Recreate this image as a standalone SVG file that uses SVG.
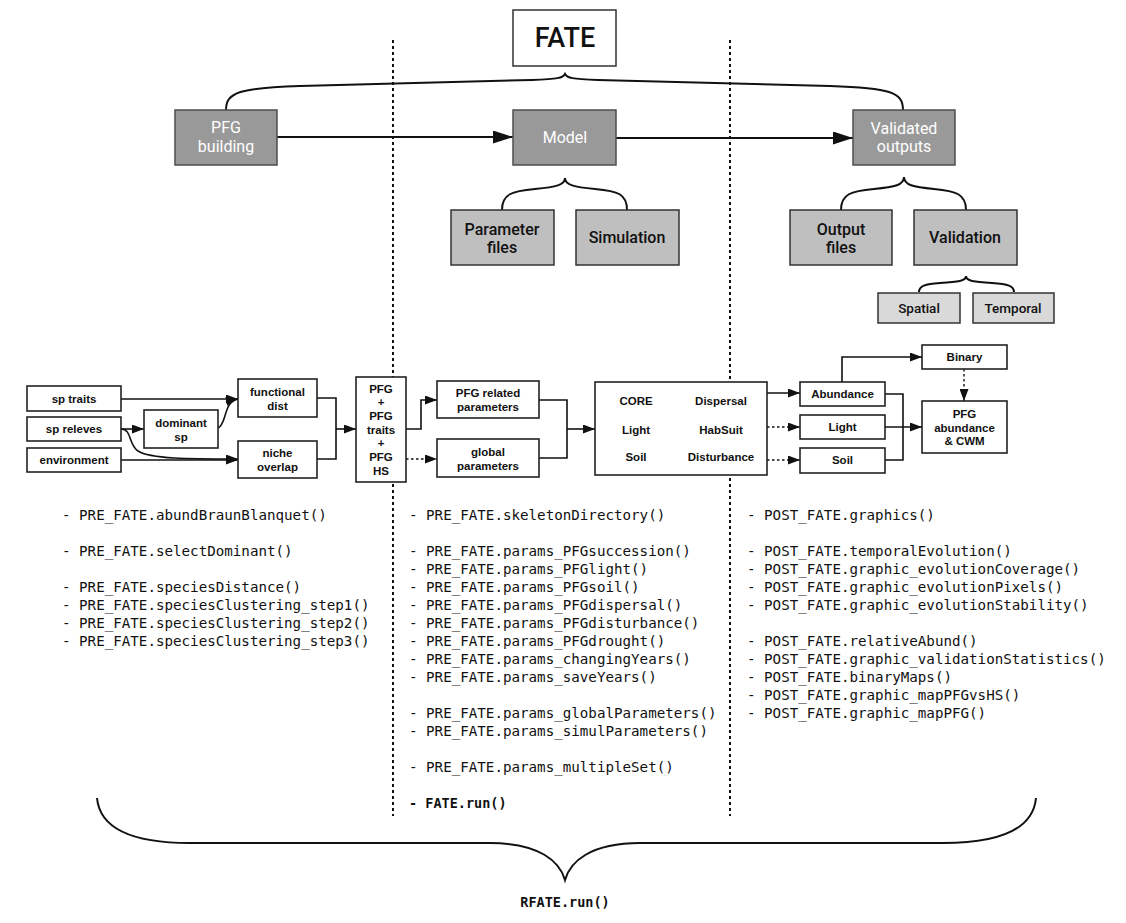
<svg xmlns="http://www.w3.org/2000/svg" width="1126" height="923" viewBox="0 0 1126 923">
<style>
.bg{fill:#ffffff}
.dark rect{fill:#999999;stroke:#4d4d4d;stroke-width:1.5}
.dark text{fill:#ffffff;font-family:Roboto,"Noto Sans",sans-serif;font-size:16px;font-weight:normal;text-anchor:middle}
.mid rect{fill:#bfbfbf;stroke:#333333;stroke-width:1.5}
.mid text{fill:#111111;font-family:Roboto,"Noto Sans",sans-serif;font-size:16px;font-weight:500;text-anchor:middle}
.light rect{fill:#d9d9d9;stroke:#333333;stroke-width:1.5}
.light text{fill:#111111;font-family:Roboto,"Noto Sans",sans-serif;font-size:13.5px;font-weight:500;text-anchor:middle}
.fate rect{fill:#ffffff;stroke:#333333;stroke-width:1.5}
.fate text{fill:#111111;font-family:Roboto,"Noto Sans",sans-serif;font-size:27px;font-weight:500;text-anchor:middle}
.box rect{fill:#ffffff;stroke:#222222;stroke-width:1.6}
.box text{fill:#111111;font-family:"Liberation Sans",Arial,sans-serif;font-size:11.5px;font-weight:bold;text-anchor:middle}
.ln{fill:none;stroke:#111111;stroke-width:1.6}
.dot{fill:none;stroke:#111111;stroke-width:1.4;stroke-dasharray:2.5 2.5}
.big{fill:none;stroke:#111111;stroke-width:2}
.brace{fill:none;stroke:#111111;stroke-width:2}
.sep{fill:none;stroke:#111111;stroke-width:2;stroke-dasharray:3 3}
.code{fill:#111111;font-family:"DejaVu Sans Mono","Liberation Mono",monospace;font-size:14.2px}
.codeb{fill:#111111;font-family:"DejaVu Sans Mono","Liberation Mono",monospace;font-size:13.5px;font-weight:bold}
</style>
<defs>
<marker id="a" markerUnits="userSpaceOnUse" markerWidth="12" markerHeight="9" refX="12" refY="4.5" orient="auto"><path d="M0,0 L12,4.5 L0,9 z" fill="#111111"/></marker>
<marker id="A" markerUnits="userSpaceOnUse" markerWidth="20" markerHeight="13" refX="20" refY="6.5" orient="auto"><path d="M0,0 L20,6.5 L0,13 z" fill="#111111"/></marker>
</defs>
<rect class="bg" x="0" y="0" width="1126" height="923"/>

<g id="separators">
<line class="sep" x1="393" y1="40" x2="393" y2="816"/>
<line class="sep" x1="730" y1="40" x2="730" y2="816"/>
</g>

<g id="connectors">
<path class="brace" d="M226,110 C226,92 240,88 300,86 L532,80 C558,79 563,78 565,74 C567,78 572,79 598,80 L830,86 C890,88 903,92 903,110"/>
<path class="brace" d="M502,210 C502,194 512,191 535,189 C556,187 565,185 565,178 C565,185 574,187 595,189 C618,191 627,194 627,210"/>
<path class="brace" d="M841,210 C841,194 851,191 874,189 C895,187 904,185 904,177 C904,185 913,187 934,189 C956,191 966,194 966,210"/>
<path class="brace" d="M919,292 C919,286 925,284 940,283 C958,282 966,281 966,276 C966,281 974,282 992,283 C1008,284 1014,286 1014,292"/>
<path class="brace" d="M97,798 C100,830 135,843 190,843 L490,843 C540,843 560,862 565,880 C570,862 590,843 640,843 L943,843 C998,843 1033,830 1036,798"/>
<line class="big" x1="277" y1="137" x2="513" y2="137" marker-end="url(#A)"/>
<line class="big" x1="616" y1="138" x2="853" y2="138" marker-end="url(#A)"/>

<path class="ln" d="M121,399 L238,399" marker-end="url(#a)"/>
<path class="ln" d="M121,429 L144,429" marker-end="url(#a)"/>
<path class="ln" d="M121,429 C132,429 128,444 138,451 C150,459 190,459 238,459" marker-end="url(#a)"/>
<path class="ln" d="M121,460 L238,460" marker-end="url(#a)"/>
<path class="ln" d="M218,428 C227,424 223,402 238,399" marker-end="url(#a)"/>
<path class="ln" d="M317,398 L336,398 L336,459 L317,459"/>
<path class="ln" d="M336,429 L356,429" marker-end="url(#a)"/>
<path class="ln" d="M406,429 L421,429 L421,400 L437,400" marker-end="url(#a)"/>
<path class="dot" d="M406,459 L437,459" marker-end="url(#a)"/>
<path class="ln" d="M539,400 L567,400 L567,458 L539,458"/>
<path class="ln" d="M567,429 L595,429" marker-end="url(#a)"/>
<path class="ln" d="M767,393 L800,393" marker-end="url(#a)"/>
<path class="dot" d="M767,427 L800,427" marker-end="url(#a)"/>
<path class="dot" d="M767,460 L800,460" marker-end="url(#a)"/>
<path class="ln" d="M842,382 L842,357 L922,357" marker-end="url(#a)"/>
<path class="dot" d="M964,369 L964,401" marker-end="url(#a)"/>
<path class="ln" d="M885,394 L903,394 L903,460 L885,460"/>
<path class="ln" d="M885,427 L922,427" marker-end="url(#a)"/>
</g>

<g id="fate" class="fate"><rect x="513" y="10" width="103" height="56"/><text x="565" y="47">FATE</text></g>
<g id="pfg-building" class="dark"><rect x="175" y="110" width="102" height="55"/><text x="226" y="133">PFG</text><text x="226" y="152">building</text></g>
<g id="model" class="dark"><rect x="513" y="110" width="103" height="55"/><text x="565" y="143">Model</text></g>
<g id="validated-outputs" class="dark"><rect x="853" y="110" width="102" height="55"/><text x="904" y="134">Validated</text><text x="904" y="152">outputs</text></g>
<g id="parameter-files" class="mid"><rect x="451" y="210" width="103" height="55"/><text x="502" y="235">Parameter</text><text x="502" y="253">files</text></g>
<g id="simulation" class="mid"><rect x="576" y="210" width="103" height="55"/><text x="627" y="243">Simulation</text></g>
<g id="output-files" class="mid"><rect x="790" y="210" width="102" height="55"/><text x="841" y="235">Output</text><text x="841" y="253">files</text></g>
<g id="validation" class="mid"><rect x="914" y="210" width="103" height="55"/><text x="965" y="243">Validation</text></g>
<g id="spatial" class="light"><rect x="878" y="293" width="82" height="30"/><text x="919" y="313">Spatial</text></g>
<g id="temporal" class="light"><rect x="973" y="293" width="81" height="30"/><text x="1013" y="313">Temporal</text></g>

<g id="sp-traits" class="box"><rect x="27" y="386" width="94" height="25"/><text x="74" y="403">sp traits</text></g>
<g id="sp-releves" class="box"><rect x="27" y="417" width="94" height="24"/><text x="74" y="433">sp releves</text></g>
<g id="environment" class="box"><rect x="27" y="448" width="94" height="24"/><text x="74" y="464">environment</text></g>
<g id="dominant-sp" class="box"><rect x="144" y="410" width="74" height="38"/><text x="181" y="427">dominant</text><text x="181" y="441">sp</text></g>
<g id="functional-dist" class="box"><rect x="238" y="379" width="79" height="38"/><text x="277.5" y="396">functional</text><text x="277.5" y="410">dist</text></g>
<g id="niche-overlap" class="box"><rect x="238" y="441" width="79" height="37"/><text x="277.5" y="457">niche</text><text x="277.5" y="471">overlap</text></g>
<g id="pfg" class="box"><rect x="356" y="377" width="50" height="105"/>
<text x="381" y="393">PFG</text><text x="381" y="406">+</text><text x="381" y="420">PFG</text><text x="381" y="434">traits</text><text x="381" y="447">+</text><text x="381" y="461">PFG</text><text x="381" y="475">HS</text></g>
<g id="pfg-related-parameters" class="box"><rect x="437" y="381" width="102" height="37"/><text x="488" y="397">PFG related</text><text x="488" y="411">parameters</text></g>
<g id="global-parameters" class="box"><rect x="437" y="439" width="102" height="38"/><text x="488" y="456">global</text><text x="488" y="470">parameters</text></g>
<g id="core" class="box"><rect x="595" y="382" width="172" height="93"/>
<text x="636" y="405">CORE</text><text x="721" y="405">Dispersal</text>
<text x="636" y="434">Light</text><text x="721" y="434">HabSuit</text>
<text x="636" y="461">Soil</text><text x="721" y="461">Disturbance</text></g>
<g id="abundance" class="box"><rect x="800" y="382" width="85" height="24"/><text x="842.5" y="398">Abundance</text></g>
<g id="light" class="box"><rect x="800" y="415" width="85" height="24"/><text x="842.5" y="431">Light</text></g>
<g id="soil" class="box"><rect x="800" y="448" width="85" height="25"/><text x="842.5" y="464">Soil</text></g>
<g id="binary" class="box"><rect x="922" y="345" width="85" height="24"/><text x="964.5" y="361">Binary</text></g>
<g id="pfg-abundance-cwm" class="box"><rect x="922" y="401" width="85" height="52"/><text x="964.5" y="418">PFG</text><text x="964.5" y="432">abundance</text><text x="964.5" y="445">&amp; CWM</text></g>

<g id="pre-fate-list" class="code">
<text x="62" y="520">- PRE_FATE.abundBraunBlanquet()</text>
<text x="62" y="556">- PRE_FATE.selectDominant()</text>
<text x="62" y="592">- PRE_FATE.speciesDistance()</text>
<text x="62" y="610">- PRE_FATE.speciesClustering_step1()</text>
<text x="62" y="628">- PRE_FATE.speciesClustering_step2()</text>
<text x="62" y="646">- PRE_FATE.speciesClustering_step3()</text>
</g>
<g id="model-list" class="code">
<text x="409" y="520">- PRE_FATE.skeletonDirectory()</text>
<text x="409" y="556">- PRE_FATE.params_PFGsuccession()</text>
<text x="409" y="574">- PRE_FATE.params_PFGlight()</text>
<text x="409" y="592">- PRE_FATE.params_PFGsoil()</text>
<text x="409" y="610">- PRE_FATE.params_PFGdispersal()</text>
<text x="409" y="628">- PRE_FATE.params_PFGdisturbance()</text>
<text x="409" y="646">- PRE_FATE.params_PFGdrought()</text>
<text x="409" y="664">- PRE_FATE.params_changingYears()</text>
<text x="409" y="682">- PRE_FATE.params_saveYears()</text>
<text x="409" y="718">- PRE_FATE.params_globalParameters()</text>
<text x="409" y="736">- PRE_FATE.params_simulParameters()</text>
<text x="409" y="772">- PRE_FATE.params_multipleSet()</text>
<text x="409" y="808" class="codeb">- FATE.run()</text>
</g>
<g id="post-fate-list" class="code">
<text x="747" y="520">- POST_FATE.graphics()</text>
<text x="747" y="556">- POST_FATE.temporalEvolution()</text>
<text x="747" y="574">- POST_FATE.graphic_evolutionCoverage()</text>
<text x="747" y="592">- POST_FATE.graphic_evolutionPixels()</text>
<text x="747" y="610">- POST_FATE.graphic_evolutionStability()</text>
<text x="747" y="646">- POST_FATE.relativeAbund()</text>
<text x="747" y="664">- POST_FATE.graphic_validationStatistics()</text>
<text x="747" y="682">- POST_FATE.binaryMaps()</text>
<text x="747" y="700">- POST_FATE.graphic_mapPFGvsHS()</text>
<text x="747" y="718">- POST_FATE.graphic_mapPFG()</text>
</g>
<g id="rfate-run"><text x="565" y="907" class="codeb" text-anchor="middle">RFATE.run()</text></g>
</svg>
